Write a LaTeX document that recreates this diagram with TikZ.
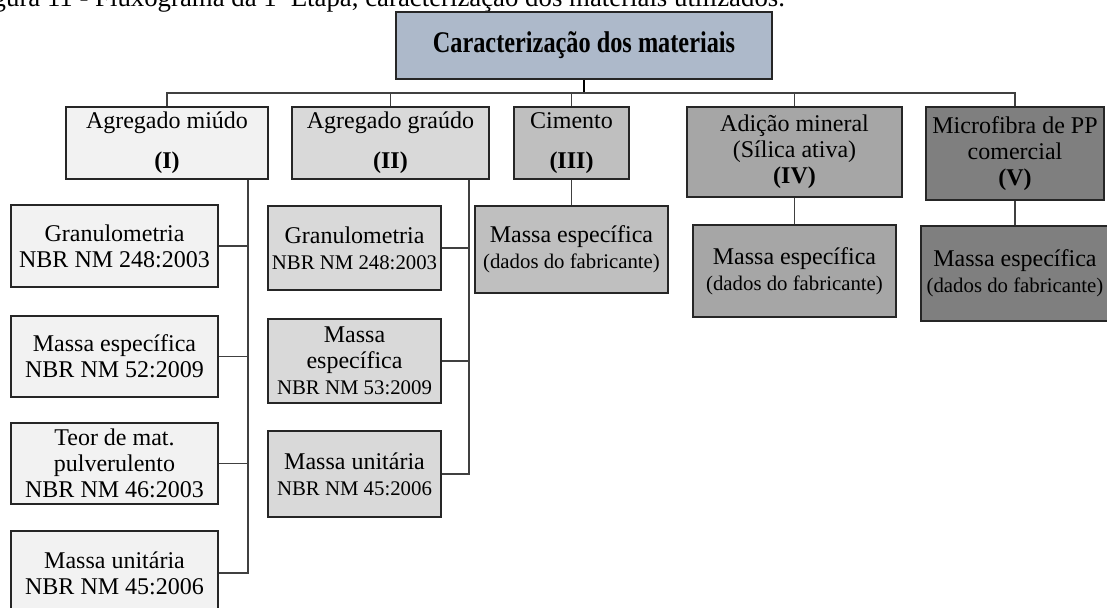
\documentclass[tikz,border=0pt]{standalone}
\usepackage{fontspec}
\setmainfont{Liberation Serif}
\usepackage{graphicx}

\definecolor{topfill}{HTML}{ADB9CA}
\definecolor{fillI}{HTML}{F2F2F2}
\definecolor{fillII}{HTML}{D9D9D9}
\definecolor{fillIII}{HTML}{BFBFBF}
\definecolor{fillIV}{HTML}{A6A6A6}
\definecolor{fillV}{HTML}{7F7F7F}

\newcommand{\smallnote}[1]{{\fontsize{10.4}{12.5}\selectfont #1}}

\begin{document}
\begin{tikzpicture}[x=0.5pt, y=-0.5pt]

  % Set up styles for the boxes and the links
  \tikzset{
      box/.style={rectangle, draw=black!85, line width=1pt, align=center, inner sep=0pt,
                  font=\fontsize{12}{13}\selectfont},
      link/.style={draw=black!75, line width=0.6pt}
  }

  \useasboundingbox (0,0) rectangle (1107,608);
  \clip (0,0) rectangle (1107,608);

  % caption, cut at the top
  \node[anchor=base east, font=\fontsize{13.4}{14}\selectfont] (caption) at (792,7)
      {Figura 11 - Fluxograma da 1ª Etapa, caracterização dos materiais utilizados.};

  \node[box, fill=topfill, minimum width=188pt, minimum height=33.5pt] (top) at (584,45.5)
      {\scalebox{0.81}[1]{\fontsize{15}{16}\selectfont\bfseries Caracterização dos materiais}};

  % first level: the five materials
  \node[box, fill=fillI, minimum width=101pt, minimum height=36pt] (agm) at (167,143)
      {Agregado miúdo\\[7pt]\textbf{(I)}};
  \node[box, fill=fillII, minimum width=98.5pt, minimum height=36pt] (agg) at (390.5,143)
      {Agregado graúdo\\[7pt]\textbf{(II)}};
  \node[box, fill=fillIII, minimum width=57.5pt, minimum height=36pt] (cim) at (571.5,143)
      {Cimento\\[7pt]\textbf{(III)}};
  \node[box, fill=fillIV, minimum width=107.5pt, minimum height=45pt] (adi) at (794.5,152)
      {Adição mineral\\(Sílica ativa)\\\textbf{(IV)}};
  \node[box, fill=fillV, minimum width=89pt, minimum height=46.5pt] (mic) at (1015,153.5)
      {Microfibra de PP\\comercial\\\textbf{(V)}};

  % tests of (I)
  \node[box, fill=fillI, minimum width=103.5pt, minimum height=41pt] (gran1) at (114.5,246)
      {Granulometria\\NBR NM 248:2003};
  \node[box, fill=fillI, minimum width=103.5pt, minimum height=40.5pt] (mesp1) at (114.5,356.5)
      {Massa específica\\NBR NM 52:2009};
  \node[box, fill=fillI, minimum width=103.5pt, minimum height=40.5pt] (teor1) at (114.5,463.5)
      {Teor de mat.\\pulverulento\\NBR NM 46:2003};
  \node[box, fill=fillI, minimum width=103.5pt, minimum height=42pt] (munit1) at (114.5,573)
      {Massa unitária\\NBR NM 45:2006};

  % tests of (II)
  \node[box, fill=fillII, minimum width=86.5pt, minimum height=42pt] (gran2) at (354.5,248)
      {Granulometria\\\smallnote{NBR NM 248:2003}};
  \node[box, fill=fillII, minimum width=86.5pt, minimum height=42pt] (mesp2) at (354.5,361)
      {Massa\\específica\\\smallnote{NBR NM 53:2009}};
  \node[box, fill=fillII, minimum width=86.5pt, minimum height=43pt] (munit2) at (354.5,474)
      {Massa unitária\\\smallnote{NBR NM 45:2006}};

  % tests of (III), (IV) and (V)
  \node[box, fill=fillIII, minimum width=96.5pt, minimum height=43.5pt] (cimc) at (571.5,249.5)
      {Massa específica\\\smallnote{(dados do fabricante)}};
  \node[box, fill=fillIV, minimum width=101.5pt, minimum height=46pt] (adic) at (794.5,271)
      {Massa específica\\\smallnote{(dados do fabricante)}};
  \node[box, fill=fillV, minimum width=94pt, minimum height=47.5pt] (micc) at (1015,273.5)
      {Massa específica\\\smallnote{(dados do fabricante)}};

  % links
  \coordinate (bus) at (585,93);
  \coordinate (trunkI) at (248,0);
  \coordinate (trunkII) at (469,0);

  \draw[link, draw=black, line width=1.2pt] (top.south) -- (top.south |- bus);
  \draw[link] (agm.north) |- (bus) -| (mic.north);
  \foreach \n in {agg, cim, adi} {
      \draw[link] (\n.north) -- (\n.north |- bus);
  }

  \draw[link, line width=0.9pt] (trunkI |- agm.south) |- (munit1.east);
  \foreach \n in {gran1, mesp1, teor1} {
      \draw[link] (\n.east) -- (\n.east -| trunkI);
  }

  \draw[link, line width=0.9pt] (trunkII |- agg.south) |- (munit2.east);
  \foreach \n in {gran2, mesp2} {
      \draw[link] (\n.east) -- (\n.east -| trunkII);
  }

  \draw[link] (cim.south) -- (cimc.north);
  \draw[link] (adi.south) -- (adic.north);
  \draw[link] (mic.south) -- (micc.north);

\end{tikzpicture}
\end{document}
